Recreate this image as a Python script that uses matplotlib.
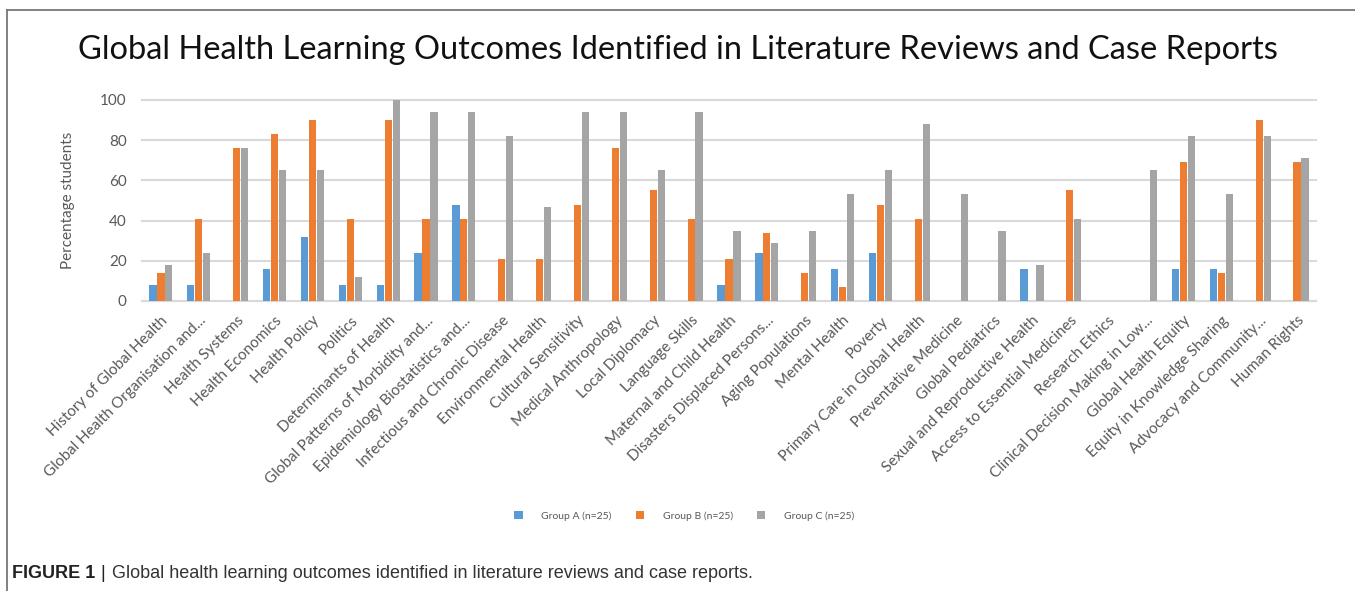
import numpy as np
import matplotlib.pyplot as plt
from matplotlib.lines import Line2D
from matplotlib.patches import Patch

categories = [
    "History of Global Health", "Global Health Organisation and...", "Health Systems",
    "Health Economics", "Health Policy", "Politics", "Determinants of Health",
    "Global Patterns of Morbidity and...", "Epidemiology Biostatistics and...",
    "Infectious and Chronic Disease", "Environmental Health", "Cultural Sensitivity",
    "Medical Anthropology", "Local Diplomacy", "Language Skills",
    "Maternal and Child Health", "Disasters Displaced Persons...", "Aging Populations",
    "Mental Health", "Poverty", "Primary Care in Global Health", "Preventative Medicine",
    "Global Pediatrics", "Sexual and Reproductive Health", "Access to Essential Medicines",
    "Research Ethics", "Clinical Decision Making in Low...", "Global Health Equity",
    "Equity in Knowledge Sharing", "Advocacy and Community...", "Human Rights",
]
group_a = [8, 8, 0, 16, 32, 8, 8, 24, 48, 0, 0, 0, 0, 0, 0, 8, 24, 0, 16, 24,
           0, 0, 0, 16, 0, 0, 0, 16, 16, 0, 0]
group_b = [14, 41, 76, 83, 90, 41, 90, 41, 41, 21, 21, 48, 76, 55, 41, 21, 34, 14, 7, 48,
           41, 0, 0, 0, 55, 0, 0, 69, 14, 90, 69]
group_c = [18, 24, 76, 65, 65, 12, 100, 94, 94, 82, 47, 94, 94, 65, 94, 35, 29, 35, 53, 65,
           88, 53, 35, 18, 41, 0, 65, 82, 53, 82, 71]
series_names = ["Group A (n=25)", "Group B (n=25)", "Group C (n=25)"]
colors = ["#5B9BD5", "#ED7D31", "#A5A5A5"]

plt.rcParams['font.family'] = ['Lato', 'DejaVu Sans']

fig = plt.figure(figsize=(13.55, 5.91), dpi=100)
ax = fig.add_axes([0.1048, 0.4907, 0.8664, 0.3401])

x = np.arange(len(categories))
w = 0.19
step = 0.21
for i, (vals, name, col) in enumerate(zip([group_a, group_b, group_c], series_names, colors)):
    ax.bar(x + (i - 1) * step, vals, width=w, color=col, label=name, zorder=3)

ax.set_xlim(-0.5, len(categories) - 0.5)
ax.set_ylim(0, 100)
ax.set_yticks([0, 20, 40, 60, 80, 100])
ax.yaxis.grid(True, color="#D9D9D9", linewidth=1.5, zorder=0)
ax.set_axisbelow(True)
for g in ax.get_ygridlines():
    g.set_clip_on(False)
for s in ["top", "right", "left"]:
    ax.spines[s].set_visible(False)
ax.spines["bottom"].set_color("#D9D9D9")
ax.spines["bottom"].set_linewidth(1.5)
ax.tick_params(axis="both", length=0, colors="#595959")
ax.tick_params(axis="y", pad=11, labelsize=11)
ax.set_xticks(x)
ax.set_xticklabels(categories, rotation=45, ha="right", rotation_mode="anchor", fontsize=11)
ax.tick_params(axis="x", pad=9)
ax.set_ylabel("Percentage students", fontsize=11, color="#595959", labelpad=18)

fig.text(0.5, 0.915, "Global Health Learning Outcomes Identified in Literature Reviews and Case Reports",
         ha="center", va="center", fontsize=23.5, color="#111111")

handles = [Patch(facecolor=c) for c in colors]
fig.legend(handles, series_names, loc="center", bbox_to_anchor=(0.505, 0.127), ncol=3,
           frameon=False, fontsize=7.5, handlelength=0.8, handleheight=0.8,
           columnspacing=2.3, handletextpad=1.8, labelcolor="#595959")

fig.add_artist(Line2D([7 / 1355, 7 / 1355], [0, 1 - 10 / 591], color="#777777", linewidth=1.3))
fig.add_artist(Line2D([7 / 1355, 1], [1 - 10 / 591, 1 - 10 / 591], color="#777777", linewidth=1.3))

fig.text(12 / 1355, 1 - 573 / 591, "FIGURE 1", fontweight="bold", fontsize=13,
         family="Liberation Sans", va="center", ha="left", color="#222222")
fig.text(100 / 1355, 1 - 573 / 591, "|", fontsize=13, family="Liberation Sans",
         va="center", ha="left", color="#222222")
fig.text(112 / 1355, 1 - 573 / 591,
         "Global health learning outcomes identified in literature reviews and case reports.",
         fontsize=13, family="Liberation Sans", va="center", ha="left", color="#333333")

fig.savefig("out.png", dpi=100)
